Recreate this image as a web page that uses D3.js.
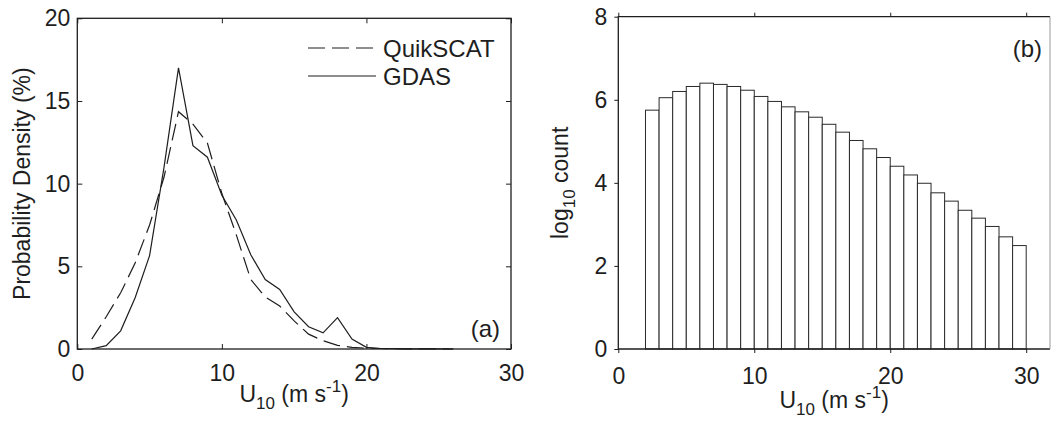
<!DOCTYPE html>
<html>
<head>
<meta charset="utf-8">
<script src="https://cdn.jsdelivr.net/npm/d3@7"></script>
<style>
  body { margin: 0; background: #fff; }
  svg { display: block; font-family: "Liberation Sans", Arial, sans-serif; }
</style>
</head>
<body>
<svg id="chart" width="1052" height="422"></svg>
<script>
// ---- data ----
// (a) probability density (%) against wind speed, 1 m/s bins
const speeds = [1, 2, 3, 4, 5, 6, 7, 8, 9, 10, 11, 12, 13, 14, 15, 16, 17, 18, 19, 20, 21, 22, 23, 24, 25, 26]
const quikscat = [0.6, 1.95, 3.4, 5.2, 7.5, 10.4, 14.35, 13.6, 12.45, 9.4, 6.9, 4.2, 3.15, 2.6, 1.7, 0.9, 0.5, 0.22, 0.1, 0.05, 0.03, 0.02, 0.01, 0.01, 0.01, 0]
const gdas = [0, 0.2, 1.1, 3.1, 5.65, 11.0, 17.0, 12.3, 11.6, 9.3, 7.8, 5.7, 4.2, 3.6, 2.25, 1.35, 0.98, 1.9, 0.6, 0.1, 0.03, 0.02, 0.01, 0.01, 0.01, 0]
const seriesNames = ['QuikSCAT', 'GDAS']

// (b) log10 count, bins of 1 m/s from 2 to 30
const binStarts = d3.range(2, 30)
const logCounts = [5.75, 6.05, 6.2, 6.32, 6.4, 6.37, 6.32, 6.23, 6.08, 5.96, 5.83, 5.71, 5.58, 5.41,
    5.22, 5.02, 4.82, 4.61, 4.4, 4.19, 3.99, 3.76, 3.56, 3.34, 3.15, 2.95, 2.7, 2.49]

const xTicks = [0, 10, 20, 30]
const yTicksA = [0, 5, 10, 15, 20]
const yTicksB = [0, 2, 4, 6, 8]

// ---- layout ----
const ink = '#1e1e1e'
const fontSize = 23
const subSize = 17
const svg = d3.select('#chart')

// 下标/上标的 U10 (m s-1) 标签
function speedLabel(g, x, y) {
    const t = g.append('text')
        .attr('x', x).attr('y', y)
        .attr('text-anchor', 'middle')
        .attr('font-size', fontSize)
        .attr('fill', ink)
    t.append('tspan').text('U')
    t.append('tspan').attr('font-size', subSize).attr('dy', 7).text('10')
    t.append('tspan').attr('dy', -7).text(' (m s')
    t.append('tspan').attr('font-size', subSize).attr('dy', -10).text('-1')
    t.append('tspan').attr('dy', 10).text(')')
}

function styleAxis(g) {
    g.select('.domain').remove()
    g.selectAll('line').attr('stroke', ink).attr('stroke-width', 1)
    g.selectAll('text').attr('font-size', fontSize).attr('fill', ink)
        .attr('font-family', '"Liberation Sans", Arial, sans-serif')
}

// ================= panel (a) =================
const xA = d3.scaleLinear().domain([0, 30]).range([77.3, 511])
const yA = d3.scaleLinear().domain([0, 20]).range([349, 18.3])
const gA = svg.append('g')

// ticks point inward on all four sides
gA.append('g').attr('transform', `translate(0,${yA(0)})`)
    .call(d3.axisBottom(xA).tickValues(xTicks).tickSize(-5).tickPadding(16))
    .call(styleAxis)
gA.append('g').attr('transform', `translate(0,${yA(20)})`)
    .call(d3.axisTop(xA).tickValues(xTicks).tickSize(-5).tickFormat(''))
    .call(styleAxis)
gA.append('g').attr('transform', `translate(${xA(0)},0)`)
    .call(d3.axisLeft(yA).tickValues(yTicksA).tickSize(-5).tickPadding(7))
    .call(styleAxis)
gA.append('g').attr('transform', `translate(${xA(30)},0)`)
    .call(d3.axisRight(yA).tickValues(yTicksA).tickSize(-5).tickFormat(''))
    .call(styleAxis)

gA.append('rect')
    .attr('x', xA(0)).attr('y', yA(20))
    .attr('width', xA(30) - xA(0)).attr('height', yA(0) - yA(20))
    .attr('fill', 'none').attr('stroke', ink).attr('stroke-width', 1.3)

const lineA = d3.line().x((d) => xA(d[0])).y((d) => yA(d[1]))
const dash = '17,7'

gA.append('path')
    .attr('d', lineA(speeds.map((s, i) => [s, quikscat[i]])))
    .attr('fill', 'none').attr('stroke', ink).attr('stroke-width', 1.2)
    .attr('stroke-dasharray', dash)
gA.append('path')
    .attr('d', lineA(speeds.map((s, i) => [s, gdas[i]])))
    .attr('fill', 'none').attr('stroke', ink).attr('stroke-width', 1.2)

// 图例
const legend = gA.append('g')
seriesNames.forEach((name, i) => {
    const ly = 48 + i * 28
    legend.append('line')
        .attr('x1', 308).attr('x2', 376).attr('y1', ly).attr('y2', ly)
        .attr('stroke', ink).attr('stroke-width', 1.2)
        .attr('stroke-dasharray', i === 0 ? dash : null)
    legend.append('text')
        .attr('x', 383).attr('y', ly).attr('dy', '0.36em')
        .attr('font-size', 24).attr('fill', ink)
        .text(name)
})

gA.append('text').attr('x', 500).attr('y', 337)
    .attr('text-anchor', 'end').attr('font-size', 24).attr('fill', ink).text('(a)')

gA.append('text')
    .attr('transform', `translate(30,${(yA(0) + yA(20)) / 2}) rotate(-90)`)
    .attr('text-anchor', 'middle').attr('font-size', fontSize).attr('fill', ink)
    .text('Probability Density (%)')

speedLabel(gA, (xA(0) + xA(30)) / 2, 402)

// ================= panel (b) =================
const xB = d3.scaleLinear().domain([0, 31.75]).range([618.3, 1050])
const yB = d3.scaleLinear().domain([0, 8]).range([349, 16.7])
const gB = svg.append('g')

gB.selectAll('rect.bar')
    .data(binStarts)
    .join('rect')
    .attr('class', 'bar')
    .attr('x', (d) => xB(d))
    .attr('width', (d) => xB(d + 1) - xB(d))
    .attr('y', (d, i) => yB(logCounts[i]))
    .attr('height', (d, i) => yB(0) - yB(logCounts[i]))
    .attr('fill', '#fff').attr('stroke', '#2a2a2a').attr('stroke-width', 1)

// ticks point outward
gB.append('g').attr('transform', `translate(0,${yB(0)})`)
    .call(d3.axisBottom(xB).tickValues(xTicks).tickSize(4).tickPadding(15))
    .call(styleAxis)
gB.append('g').attr('transform', `translate(0,${yB(8)})`)
    .call(d3.axisTop(xB).tickValues(xTicks).tickSize(4).tickFormat(''))
    .call(styleAxis)
gB.append('g').attr('transform', `translate(${xB(0)},0)`)
    .call(d3.axisLeft(yB).tickValues(yTicksB).tickSize(4).tickPadding(7))
    .call(styleAxis)

// 边框：右边被裁切，颜色偏淡
gB.append('path')
    .attr('d', `M${xB(31.75)},${yB(8)}H${xB(0)}V${yB(0)}H${xB(31.75)}`)
    .attr('fill', 'none').attr('stroke', ink).attr('stroke-width', 1.3)
gB.append('line')
    .attr('x1', xB(31.75)).attr('x2', xB(31.75)).attr('y1', yB(8)).attr('y2', yB(0))
    .attr('stroke', '#999').attr('stroke-width', 1)

gB.append('text').attr('x', 1042).attr('y', 57)
    .attr('text-anchor', 'end').attr('font-size', 24).attr('fill', ink).text('(b)')

const yl = gB.append('text')
    .attr('transform', `translate(568,${(yB(0) + yB(8)) / 2}) rotate(-90)`)
    .attr('text-anchor', 'middle').attr('font-size', fontSize).attr('fill', ink)
yl.append('tspan').text('log')
yl.append('tspan').attr('font-size', subSize).attr('dy', 7).text('10')
yl.append('tspan').attr('dy', -7).text(' count')

speedLabel(gB, (xB(0) + xB(31.75)) / 2, 408)
</script>
</body>
</html>
